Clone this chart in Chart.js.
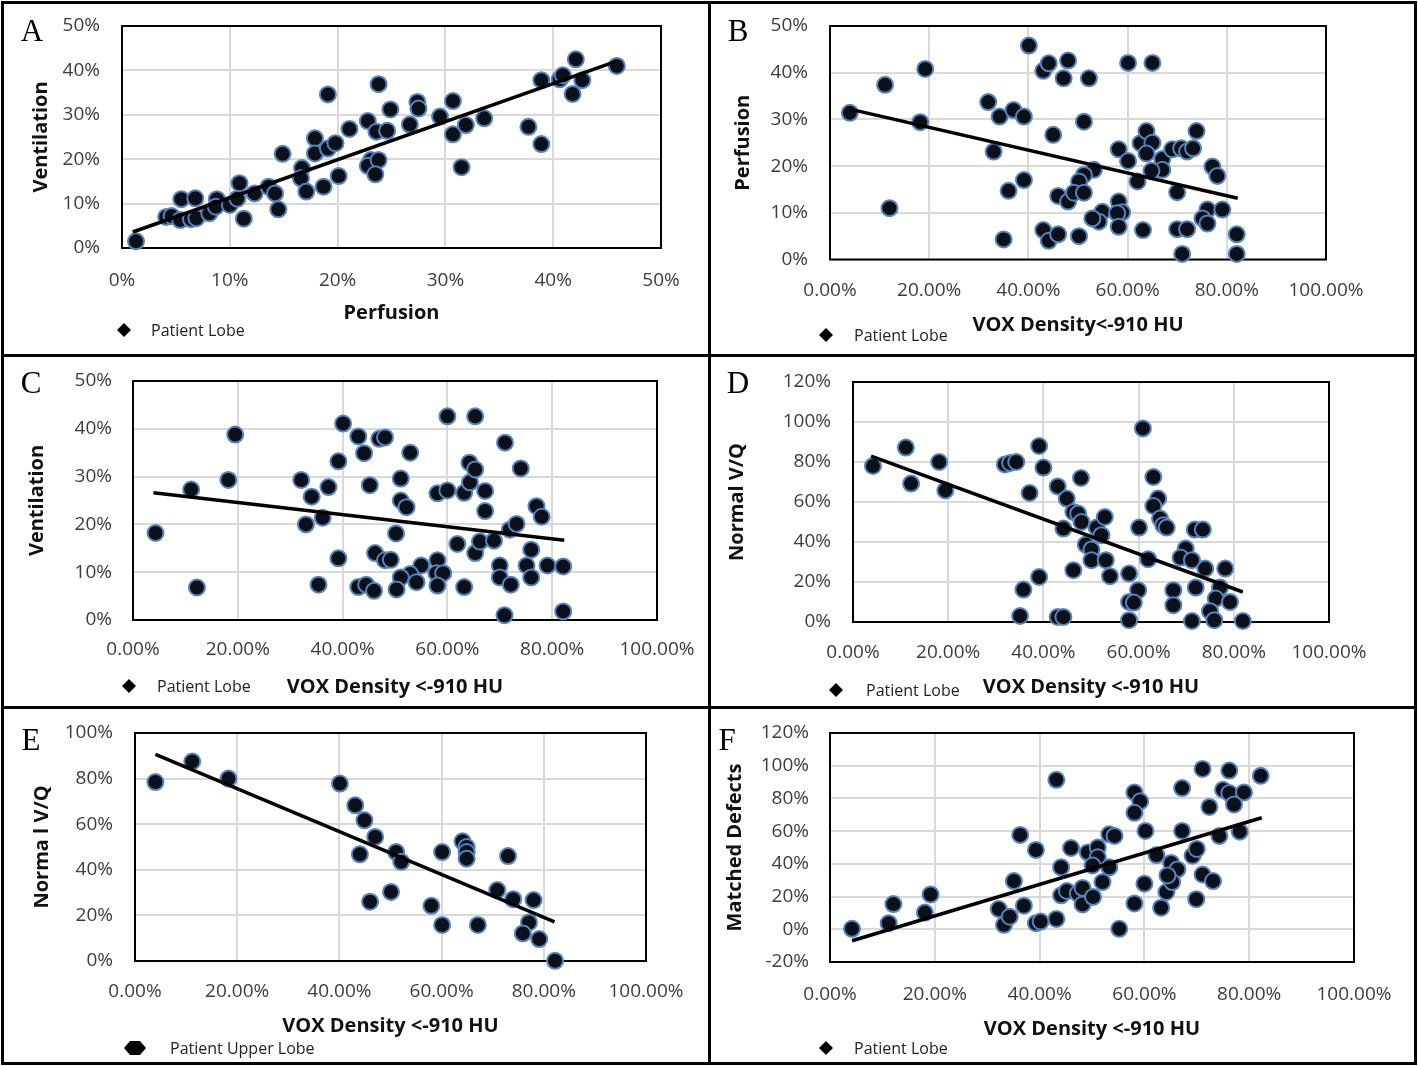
<!DOCTYPE html>
<html>
<head>
<meta charset="utf-8">
<script src="https://cdn.jsdelivr.net/npm/chart.js@4.4.1/dist/chart.umd.min.js"></script>
<style>
  html, body { margin: 0; padding: 0; background: #fff; }
  #fig { position: relative; width: 1418px; height: 1066px; overflow: hidden; }
  .rule { position: absolute; background: #000; }
  canvas { position: absolute; }
</style>
</head>
<body>
<div id="fig">
  <div class="rule" style="left:1px;top:1px;width:1416px;height:3px"></div>
  <div class="rule" style="left:1px;top:1062px;width:1416px;height:3px"></div>
  <div class="rule" style="left:1px;top:1px;width:3px;height:1064px"></div>
  <div class="rule" style="left:1414px;top:1px;width:3px;height:1064px"></div>
  <div class="rule" style="left:708px;top:1px;width:3px;height:1064px"></div>
  <div class="rule" style="left:1px;top:354px;width:1416px;height:3px"></div>
  <div class="rule" style="left:1px;top:706px;width:1416px;height:3px"></div>
</div>
<script>
// ---- data (percent) ----
// A: perfusion vs ventilation
const perfusionA = [1.3, 4.1, 4.6, 5.4, 5.5, 6.8, 6.4, 6.9, 8.1, 8.8, 8.7, 10.0, 10.7, 10.9, 11.3, 12.3, 13.6, 14.2, 14.5, 14.9,
  16.7, 16.6, 17.1, 17.9, 17.9, 18.7, 19.1, 19.1, 19.8, 20.1, 21.1, 22.8, 23.1, 22.8, 23.8, 23.5, 23.6, 24.6, 23.8, 24.9,
  26.7, 27.4, 27.5, 29.5, 30.7, 30.7, 31.9, 31.5, 33.6, 37.7, 38.9, 38.9, 40.6, 40.9, 42.1, 42.7, 41.8, 45.9];
const ventilationA = [1.5, 7.0, 7.2, 6.3, 11.0, 11.2, 6.5, 6.7, 7.8, 11.0, 9.3, 9.7, 11.1, 14.6, 6.6, 12.3, 13.8, 12.3, 8.7, 21.2,
  18.0, 15.7, 12.7, 24.7, 21.3, 13.8, 34.6, 22.4, 23.6, 16.2, 26.8, 28.6, 19.8, 18.5, 19.8, 16.6, 26.2, 26.4, 36.9, 31.2,
  27.8, 32.9, 31.4, 29.6, 33.1, 25.6, 27.7, 18.2, 29.2, 27.3, 37.8, 23.4, 38.0, 38.9, 42.5, 37.8, 34.7, 41.0];
const trendAx = [1.0, 45.9];
const trendAy = [3.6, 42.1];

// B: VOX density vs perfusion
const voxB = [4.0, 11.1, 12.0, 19.2, 18.2, 31.9, 34.2, 37.0, 39.1, 33.0, 36.0, 39.1, 35.0, 40.1, 43.0, 44.1, 47.1, 48.0, 45.0, 46.0,
  48.0, 43.0, 44.1, 46.0, 52.2, 51.2, 60.1, 65.0, 53.2, 51.2, 50.2, 49.2, 51.2, 54.9, 54.2, 52.9, 58.2, 58.9, 57.9, 58.2,
  50.2, 58.2, 60.1, 62.0, 62.6, 63.8, 65.0, 63.8, 67.0, 67.0, 64.8, 69.0, 70.8, 72.0, 73.2, 73.9, 70.0, 63.1, 70.0, 72.0,
  71.0, 77.1, 78.1, 76.1, 79.1, 75.1, 76.1, 82.0, 82.0];
const perfusionB = [31.4, 37.4, 11.0, 40.8, 29.4, 33.7, 30.6, 32.0, 30.6, 23.1, 14.7, 17.0, 4.3, 45.8, 40.4, 42.0, 38.8, 42.6, 26.7, 13.6,
  12.4, 6.3, 4.0, 5.4, 38.8, 29.5, 42.1, 42.1, 19.2, 18.1, 16.7, 14.3, 14.3, 10.2, 8.1, 8.8, 12.4, 10.1, 9.9, 7.0,
  5.0, 23.6, 21.1, 16.7, 24.9, 27.5, 25.0, 22.7, 21.5, 19.2, 19.0, 23.6, 23.8, 23.1, 23.8, 27.5, 14.4, 6.3, 6.5, 6.5,
  1.2, 19.9, 17.9, 10.7, 10.7, 8.8, 7.7, 5.4, 1.2];
const trendBx = [4.0, 82.2];
const trendBy = [32.2, 13.1];

// C: VOX density vs ventilation
const voxC = [4.3, 11.1, 12.2, 18.2, 19.5, 32.1, 34.1, 37.3, 33.0, 36.2, 39.2, 40.1, 39.2, 35.4, 43.0, 43.0, 44.1, 47.0, 48.1, 52.9,
  45.2, 51.1, 51.1, 52.2, 50.2, 46.2, 48.1, 49.2, 55.0, 52.9, 51.1, 54.1, 44.5, 46.0, 50.3, 58.1, 57.9, 59.2, 58.1, 63.2,
  58.1, 60.0, 60.0, 65.3, 63.2, 64.3, 64.2, 65.3, 67.2, 67.2, 71.0, 74.0, 61.9, 65.3, 66.2, 68.9, 71.9, 73.2, 70.0, 70.0,
  72.1, 76.0, 75.1, 76.0, 77.0, 78.0, 79.1, 82.1, 82.1, 70.9];
const ventilationC = [18.2, 27.3, 6.8, 29.3, 38.8, 29.3, 25.8, 27.8, 20.0, 21.4, 33.2, 41.1, 12.9, 7.4, 6.9, 38.4, 34.9, 37.9, 38.2, 35.0,
  28.2, 29.6, 25.0, 23.6, 18.1, 14.0, 12.5, 12.6, 11.4, 9.6, 8.9, 7.9, 7.4, 6.1, 6.4, 12.5, 9.8, 9.8, 7.2, 6.9,
  26.5, 27.1, 42.6, 42.6, 26.6, 28.8, 32.9, 31.5, 27.0, 22.8, 37.1, 31.7, 15.9, 14.0, 16.4, 16.6, 18.9, 20.1, 11.4, 8.9,
  7.4, 14.7, 11.4, 8.9, 23.8, 21.6, 11.4, 11.2, 1.8, 1.0];
const trendCx = [3.9, 82.3];
const trendCy = [26.6, 16.7];

// D: VOX density vs normal V/Q
const voxD = [4.2, 11.1, 12.2, 18.1, 19.4, 31.9, 33.0, 34.3, 39.1, 40.0, 37.1, 43.0, 44.2, 39.1, 35.8, 35.1, 43.0, 44.2, 44.9, 47.9,
  46.3, 47.3, 48.0, 51.2, 52.9, 52.2, 48.9, 50.1, 50.1, 53.1, 46.3, 54.0, 58.0, 60.1, 59.9, 58.0, 59.0, 58.0, 63.1, 64.1,
  63.1, 64.5, 65.2, 65.9, 62.0, 67.3, 67.3, 69.9, 68.8, 71.2, 74.0, 78.2, 72.0, 77.1, 76.2, 79.2, 75.0, 75.9, 71.2, 81.9,
  71.8, 73.5, 60.9];
const normalVQD = [78.0, 87.2, 69.2, 80.0, 65.8, 78.8, 79.5, 80.0, 88.0, 77.2, 64.5, 67.8, 46.7, 22.5, 16.2, 3.0, 2.5, 2.5, 61.7, 72.0,
  55.0, 54.2, 50.0, 47.2, 52.5, 43.4, 38.7, 36.2, 30.9, 30.9, 25.9, 22.9, 24.2, 47.2, 15.9, 10.0, 9.7, 0.9, 72.5, 61.7,
  58.0, 51.7, 48.4, 47.2, 31.4, 15.9, 8.4, 36.7, 32.2, 30.9, 26.7, 26.7, 17.2, 17.2, 11.7, 10.0, 5.4, 0.9, 0.5, 0.5,
  46.2, 46.2, 96.8];
const trendDx = [3.8, 81.9];
const trendDy = [82.9, 15.0];

// E: VOX density vs normal V/Q (upper lobes)
const voxE = [4.0, 11.2, 18.3, 40.1, 43.1, 44.9, 47.0, 44.0, 51.1, 52.1, 46.0, 50.1, 58.0, 60.1, 60.1, 64.1, 64.9, 64.9, 64.9, 67.1,
  73.0, 70.9, 74.0, 78.0, 77.1, 75.9, 79.1, 82.2];
const normalVQE = [78.5, 87.5, 80.0, 77.8, 68.3, 61.7, 54.4, 46.8, 47.8, 43.5, 26.0, 30.3, 24.2, 47.8, 15.8, 52.5, 50.0, 47.8, 44.9, 15.8,
  46.0, 31.1, 27.1, 26.7, 16.9, 12.1, 9.6, 0.1];
const trendEx = [4.0, 82.1];
const trendEy = [90.6, 17.2];

// F: VOX density vs matched defects
const voxF = [4.2, 11.2, 12.1, 18.1, 19.2, 32.2, 33.2, 34.3, 35.1, 37.0, 36.3, 39.3, 39.3, 40.2, 43.2, 43.2, 44.1, 44.1, 45.2, 46.0,
  49.2, 51.1, 51.1, 50.1, 53.3, 47.3, 48.2, 48.2, 50.2, 52.0, 53.3, 54.3, 58.1, 59.2, 58.1, 60.2, 60.0, 58.1, 55.2, 62.3,
  63.2, 64.2, 65.1, 66.3, 65.3, 64.4, 67.2, 67.2, 69.2, 70.0, 71.1, 73.1, 69.9, 71.1, 76.2, 75.0, 76.2, 79.0, 77.1, 72.4,
  74.3, 78.2, 82.2];
const matchedF = [0.3, 3.7, 15.4, 10.2, 21.3, 12.4, 2.7, 7.7, 29.5, 14.4, 57.7, 48.5, 3.7, 4.7, 6.3, 91.4, 37.9, 20.8, 23.4, 49.7,
  47.0, 50.0, 44.0, 39.0, 37.9, 21.9, 25.3, 15.2, 19.8, 28.9, 58.1, 57.1, 83.7, 78.2, 71.2, 60.1, 27.9, 15.8, 0.3, 45.4,
  13.2, 22.8, 40.6, 36.6, 28.9, 32.9, 60.1, 86.3, 45.0, 49.1, 33.5, 29.5, 18.4, 98.0, 97.0, 85.3, 83.3, 83.7, 76.3, 74.8,
  57.1, 59.7, 93.8];
const trendFx = [4.2, 82.4];
const trendFy = [-7.0, 68.2];

// ---- layout (page pixel coordinates) ----
const panels = [
  { letter: 'A', box: [4, 4, 708, 354], plot: [122, 26, 661, 248], yTickRight: 100, xTickY: 281, xTitleY: 313, yTitleX: 41,
    xs: perfusionA, ys: ventilationA, tx: trendAx, ty: trendAy, x: [0, 50, 10], y: [0, 50, 10], xDec: 0,
    xTitle: 'Perfusion', yTitle: 'Ventilation', legend: 'Patient Lobe', legendAt: [124, 330, 151], letterAt: [32, 33] },
  { letter: 'B', box: [711, 4, 1414, 354], plot: [830, 26, 1326, 259.5], yTickRight: 808, xTickY: 291, xTitleY: 325, yTitleX: 743,
    xs: voxB, ys: perfusionB, tx: trendBx, ty: trendBy, x: [0, 100, 20], y: [0, 50, 10], xDec: 2,
    xTitle: 'VOX Density<-910 HU', yTitle: 'Perfusion', legend: 'Patient Lobe', legendAt: [826, 335, 854], letterAt: [738, 33] },
  { letter: 'C', box: [4, 357, 708, 706], plot: [133, 381, 657, 620], yTickRight: 112, xTickY: 650, xTitleY: 687, yTitleX: 37,
    xs: voxC, ys: ventilationC, tx: trendCx, ty: trendCy, x: [0, 100, 20], y: [0, 50, 10], xDec: 2,
    xTitle: 'VOX Density <-910 HU', yTitle: 'Ventilation', legend: 'Patient Lobe', legendAt: [129, 686, 157], letterAt: [31, 385] },
  { letter: 'D', box: [711, 357, 1414, 706], plot: [853, 382, 1329, 622], yTickRight: 831, xTickY: 653, xTitleY: 687, yTitleX: 737,
    xs: voxD, ys: normalVQD, tx: trendDx, ty: trendDy, x: [0, 100, 20], y: [0, 120, 20], xDec: 2,
    xTitle: 'VOX Density <-910 HU', yTitle: 'Normal V/Q', legend: 'Patient Lobe', legendAt: [836, 690, 866], letterAt: [738, 385] },
  { letter: 'E', box: [4, 709, 708, 1062], plot: [135, 733, 646, 961], yTickRight: 113, xTickY: 992, xTitleY: 1026, yTitleX: 42,
    xs: voxE, ys: normalVQE, tx: trendEx, ty: trendEy, x: [0, 100, 20], y: [0, 100, 20], xDec: 2,
    xTitle: 'VOX Density <-910 HU', yTitle: 'Norma l V/Q', legend: 'Patient Upper Lobe', legendAt: [135, 1048, 170], letterAt: [31, 742], wideMark: true },
  { letter: 'F', box: [711, 709, 1414, 1062], plot: [830, 733, 1354, 962], yTickRight: 809, xTickY: 995, xTitleY: 1029, yTitleX: 735,
    xs: voxF, ys: matchedF, tx: trendFx, ty: trendFy, x: [0, 100, 20], y: [-20, 120, 20], xDec: 2,
    xTitle: 'VOX Density <-910 HU', yTitle: 'Matched Defects', legend: 'Patient Lobe', legendAt: [826, 1048, 854], letterAt: [727, 742] }
];

const FONT = '"Open Sans", "DejaVu Sans", sans-serif';
const TICK_SIZE = 19, TITLE_SIZE = 20;
Chart.defaults.font.family = FONT;

const pts = (xs, ys) => xs.map((x, i) => ({ x: x, y: ys[i] }));

// frame around plot area, panel letter and the little legend
const panelDecor = {
  id: 'panelDecor',
  beforeDatasetsDraw(chart) {
    const a = chart.chartArea, ctx = chart.ctx;
    ctx.save();
    ctx.strokeStyle = '#000';
    ctx.lineWidth = 2;
    ctx.strokeRect(a.left, a.top, a.right - a.left, a.bottom - a.top);
    ctx.restore();
  },
  afterDraw(chart, args, o) {
    const ctx = chart.ctx;
    ctx.save();
    ctx.fillStyle = '#000';
    ctx.font = '31px "Liberation Serif", "DejaVu Serif", serif';
    ctx.textAlign = 'center';
    ctx.textBaseline = 'middle';
    ctx.fillText(o.letter, o.letterAt[0], o.letterAt[1]);

    const [mx, my, tx] = o.legendAt;
    const hw = o.wideMark ? 11 : 7, hh = 7;
    ctx.beginPath();
    if (o.wideMark) {
      ctx.moveTo(mx - hw, my);
      ctx.lineTo(mx - 5, my - hh);
      ctx.lineTo(mx + 5, my - hh);
      ctx.lineTo(mx + hw, my);
      ctx.lineTo(mx + 5, my + hh);
      ctx.lineTo(mx - 5, my + hh);
    } else {
      ctx.moveTo(mx, my - hh);
      ctx.lineTo(mx + hw, my);
      ctx.lineTo(mx, my + hh);
      ctx.lineTo(mx - hw, my);
    }
    ctx.closePath();
    ctx.fill();

    ctx.fillStyle = '#222';
    ctx.font = '16px ' + FONT;
    ctx.textAlign = 'left';
    ctx.fillText(o.legend, tx, my + 1);
    ctx.restore();
  }
};

const fig = document.getElementById('fig');

panels.forEach(p => {
  const [bx0, by0, bx1, by1] = p.box;
  const [pl, pt, pr, pb] = p.plot;
  const titleLH = TITLE_SIZE * 1.2;
  const tickLH = TICK_SIZE * 1.2;

  const padLeft = p.yTitleX - titleLH / 2 - bx0;
  const yW = pl - bx0 - padLeft;
  const xH = p.xTitleY - pb + titleLH / 2;
  const padBottom = by1 - pb - xH;

  const cv = document.createElement('canvas');
  cv.width = bx1 - bx0;
  cv.height = by1 - by0;
  cv.style.left = bx0 + 'px';
  cv.style.top = by0 + 'px';
  fig.appendChild(cv);

  const gridStyle = { color: '#d9d9d9', lineWidth: 2, drawTicks: false };
  const tickFont = { family: FONT, size: TICK_SIZE };
  const titleFont = { family: FONT, size: TITLE_SIZE, weight: 'bold' };

  new Chart(cv, {
    type: 'scatter',
    data: {
      datasets: [
        { data: pts(p.tx, p.ty), showLine: true, borderColor: '#000', borderWidth: 3.5,
          pointRadius: 0, order: 0, clip: false },
        { data: pts(p.xs, p.ys), pointRadius: 8, pointBackgroundColor: '#0c1019',
          pointBorderColor: '#5683bd', pointBorderWidth: 2, order: 1, clip: false }
      ]
    },
    options: {
      responsive: false,
      animation: false,
      events: [],
      layout: { padding: { left: padLeft, top: pt - by0, right: bx1 - pr, bottom: padBottom } },
      plugins: {
        legend: { display: false },
        tooltip: { enabled: false },
        panelDecor: {
          letter: p.letter,
          letterAt: [p.letterAt[0] - bx0, p.letterAt[1] - by0],
          legend: p.legend,
          legendAt: [p.legendAt[0] - bx0, p.legendAt[1] - by0, p.legendAt[2] - bx0],
          wideMark: !!p.wideMark
        }
      },
      scales: {
        x: {
          type: 'linear', min: p.x[0], max: p.x[1],
          afterFit: s => { s.height = xH; s.paddingLeft = 0; s.paddingRight = 0; },
          grid: gridStyle,
          border: { display: false },
          ticks: {
            stepSize: p.x[2], autoSkip: false, maxRotation: 0, color: '#3c3c3c', font: tickFont,
            padding: p.xTickY - pb - tickLH / 2,
            callback: v => v.toFixed(p.xDec) + '%'
          },
          title: { display: true, text: p.xTitle, color: '#111', font: titleFont, padding: 0 }
        },
        y: {
          type: 'linear', min: p.y[0], max: p.y[1],
          afterFit: s => { s.width = yW; s.paddingTop = 0; s.paddingBottom = 0; },
          grid: gridStyle,
          border: { display: false },
          ticks: {
            stepSize: p.y[2], autoSkip: false, color: '#3c3c3c', font: tickFont,
            padding: pl - p.yTickRight,
            callback: v => v + '%'
          },
          title: { display: true, text: p.yTitle, color: '#111', font: titleFont, padding: 0 }
        }
      }
    },
    plugins: [panelDecor]
  });
});
</script>
</body>
</html>
